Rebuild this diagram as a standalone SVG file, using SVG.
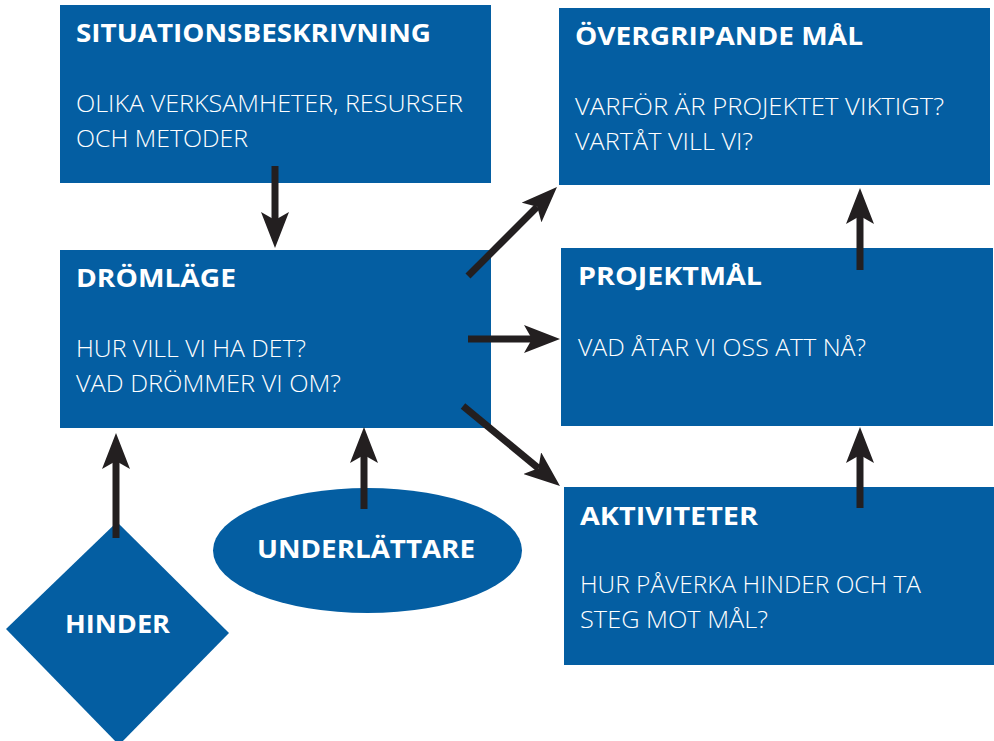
<svg xmlns="http://www.w3.org/2000/svg" width="994" height="741" viewBox="0 0 994 741">
<style>
.box{fill:#045ea2}
.t{font-family:"Open Sans","Liberation Sans",sans-serif;font-weight:700;font-size:25px;fill:#fff}
.b{font-family:"Open Sans","Liberation Sans",sans-serif;font-weight:300;font-size:23px;fill:#fff}
.c{stroke:#231f20;stroke-width:7;fill:none}
</style>
<defs>
<marker id="ah" markerUnits="userSpaceOnUse" viewBox="0 0 36 28" markerWidth="36" markerHeight="28" refX="8" refY="14" orient="auto">
<path d="M0,0 L36,14 L0,28 L8,14 Z" fill="#231f20"/>
</marker>
</defs>
<rect width="994" height="741" fill="#fff"/>
<g id="situationsbeskrivning">
<rect class="box" x="60" y="5" width="431" height="178"/>
<text class="t" x="76" y="42" textLength="355" lengthAdjust="spacingAndGlyphs">SITUATIONSBESKRIVNING</text>
<text class="b" x="76" y="112" textLength="387" lengthAdjust="spacingAndGlyphs">OLIKA VERKSAMHETER, RESURSER</text>
<text class="b" x="76" y="147" textLength="172" lengthAdjust="spacingAndGlyphs">OCH METODER</text>
</g>
<g id="dromlage">
<rect class="box" x="60" y="250" width="431" height="178"/>
<text class="t" x="76" y="287" textLength="160" lengthAdjust="spacingAndGlyphs">DRÖMLÄGE</text>
<text class="b" x="76" y="357" textLength="230" lengthAdjust="spacingAndGlyphs">HUR VILL VI HA DET?</text>
<text class="b" x="76" y="392" textLength="265" lengthAdjust="spacingAndGlyphs">VAD DRÖMMER VI OM?</text>
</g>
<g id="overgripande">
<rect class="box" x="559" y="8" width="431" height="177"/>
<text class="t" x="575" y="45" textLength="288" lengthAdjust="spacingAndGlyphs">ÖVERGRIPANDE MÅL</text>
<text class="b" x="575" y="115" textLength="369" lengthAdjust="spacingAndGlyphs">VARFÖR ÄR PROJEKTET VIKTIGT?</text>
<text class="b" x="575" y="150" textLength="178" lengthAdjust="spacingAndGlyphs">VARTÅT VILL VI?</text>
</g>
<g id="projektmal">
<rect class="box" x="561" y="248" width="432" height="178"/>
<text class="t" x="578" y="285" textLength="184" lengthAdjust="spacingAndGlyphs">PROJEKTMÅL</text>
<text class="b" x="578" y="356" textLength="288" lengthAdjust="spacingAndGlyphs">VAD ÅTAR VI OSS ATT NÅ?</text>
</g>
<g id="aktiviteter">
<rect class="box" x="564" y="487" width="430" height="178"/>
<text class="t" x="580" y="525" textLength="178" lengthAdjust="spacingAndGlyphs">AKTIVITETER</text>
<text class="b" x="580" y="593" textLength="341" lengthAdjust="spacingAndGlyphs">HUR PÅVERKA HINDER OCH TA</text>
<text class="b" x="580" y="628" textLength="188" lengthAdjust="spacingAndGlyphs">STEG MOT MÅL?</text>
</g>
<g id="underlattare">
<ellipse class="box" cx="367.5" cy="550.5" rx="154.5" ry="62.5"/>
<text class="t" x="257" y="558" textLength="218" lengthAdjust="spacingAndGlyphs">UNDERLÄTTARE</text>
</g>
<g id="hinder">
<polygon class="box" points="117,522 229,633 119,745 6,629"/>
<text class="t" x="65" y="633" textLength="105" lengthAdjust="spacingAndGlyphs">HINDER</text>
</g>
<g id="connectors">
<line class="c" x1="275" y1="166" x2="275" y2="220" marker-end="url(#ah)"/>
<line class="c" x1="468" y1="339" x2="532" y2="339" marker-end="url(#ah)"/>
<line class="c" x1="468" y1="276" x2="537.2" y2="206.8" marker-end="url(#ah)"/>
<line class="c" x1="463" y1="406" x2="538.4" y2="468.2" marker-end="url(#ah)"/>
<line class="c" x1="860" y1="270" x2="860" y2="216" marker-end="url(#ah)"/>
<line class="c" x1="860" y1="508" x2="860" y2="455" marker-end="url(#ah)"/>
<line class="c" x1="116" y1="538" x2="116" y2="461" marker-end="url(#ah)"/>
<line class="c" x1="364" y1="509" x2="364" y2="455" marker-end="url(#ah)"/>
</g>
</svg>
